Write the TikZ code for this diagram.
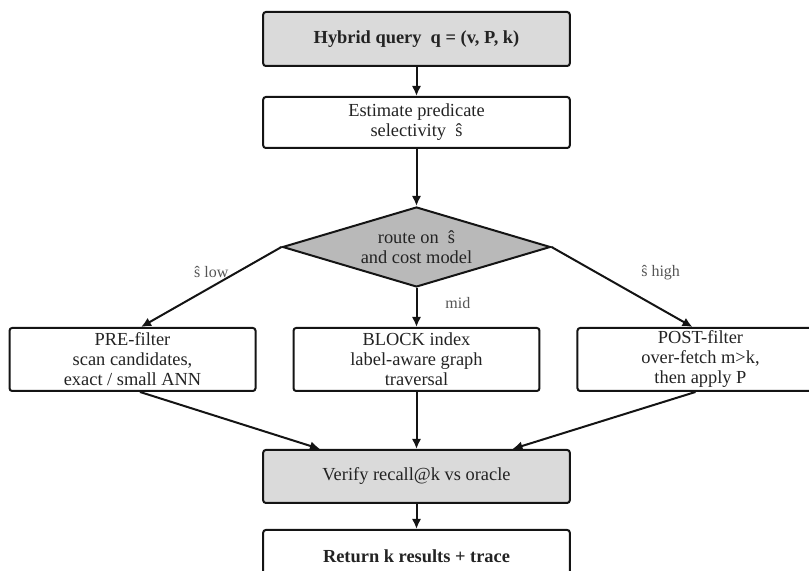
\documentclass[tikz,border=0pt]{standalone}
\usepackage{fontspec}
\setmainfont{Liberation Serif}
\usepackage{tikz}
\usetikzlibrary{
    arrows.meta,
    positioning,
    calc,
    shapes.geometric
}
\tikzset{
  block/.style   = {draw=LineDark, line width=1.5pt, rounded corners=2pt,
                    minimum width=230pt, minimum height=39pt, inner sep=1pt,
                    align=center, text=TextDark, font=\fontsize{13.8}{15}\selectfont},
  fblock/.style  = {draw=LineDark, line width=1.5pt, rounded corners=2pt,
                    minimum width=184.5pt, minimum height=47.25pt, inner sep=1pt,
                    align=center, text=TextDark, font=\fontsize{13.8}{15}\selectfont},
  decide/.style  = {diamond, draw=LineDark, line width=1.5pt, fill=DiamondGray,
                    aspect=3.35, inner sep=0pt, minimum width=201pt,
                    minimum height=60pt, align=center, text=TextDark,
                    font=\fontsize{13.8}{15}\selectfont},
  arr/.style     = {-{Latex[length=7.5pt,width=7pt]}, line width=1.5pt, LineDark},
  lbl/.style     = {font=\fontsize{12}{14}\selectfont, text=LabelGray}
}
\definecolor{SoftGray}{RGB}{218,218,218}
\definecolor{DiamondGray}{RGB}{185,185,185}
\definecolor{LineDark}{RGB}{20,20,20}
\definecolor{TextDark}{RGB}{35,35,35}
\definecolor{LabelGray}{RGB}{85,85,85}

\begin{document}
\begin{tikzpicture}
\useasboundingbox (-312.4pt,29.25pt) rectangle (294.4pt,-399pt);
\node[block,fill=SoftGray,minimum height=40.5pt,font=\fontsize{13.8}{15}\selectfont\bfseries] (query) at (0,0) {Hybrid query\ \ q = (v, P, k)};
\node[block,below=21.75pt of query,minimum height=38.25pt] (est) {Estimate predicate\\selectivity\ \ ŝ};
\node[decide,below=42.75pt of est] (route) {route on\ \ ŝ\\and cost model};
\node[fblock,below=29.25pt of route] (blk) {BLOCK index\\label-aware graph\\traversal};
\node[fblock,left=27pt of blk] (pre) {PRE-filter\\scan candidates,\\exact / small ANN};
\node[fblock,right=27pt of blk] (post) {POST-filter\\over-fetch m>k,\\then apply P};
\node[block,fill=SoftGray,below=42.75pt of blk,minimum height=39.75pt] (verify) {Verify recall@k vs oracle};
\node[block,below=18.75pt of verify,minimum height=40pt,font=\fontsize{13.8}{15}\selectfont\bfseries] (ret) {Return k results + trace};
\draw[arr] (query) -- (est);
\draw[arr] (est) -- (route);
\draw[arr] (route.west) -- node[lbl,yshift=11pt] {ŝ low} ($(pre.north)+(6.4pt,0)$);
\draw[arr] (route) -- node[lbl,xshift=31pt,yshift=3pt] {mid} (blk);
\draw[arr] (route.east) -- node[lbl,xshift=29pt,yshift=11pt] {ŝ high} ($(post.north)+(-6pt,0)$);
\draw[arr] ($(pre.south)+(5.6pt,0)$) -- ($(verify.north)+(-72.4pt,0)$);
\draw[arr] (blk) -- (verify);
\draw[arr] ($(post.south)+(-3.75pt,0)$) -- ($(verify.north)+(72pt,0)$);
\draw[arr] (verify) -- (ret);
\end{tikzpicture}
\end{document}
